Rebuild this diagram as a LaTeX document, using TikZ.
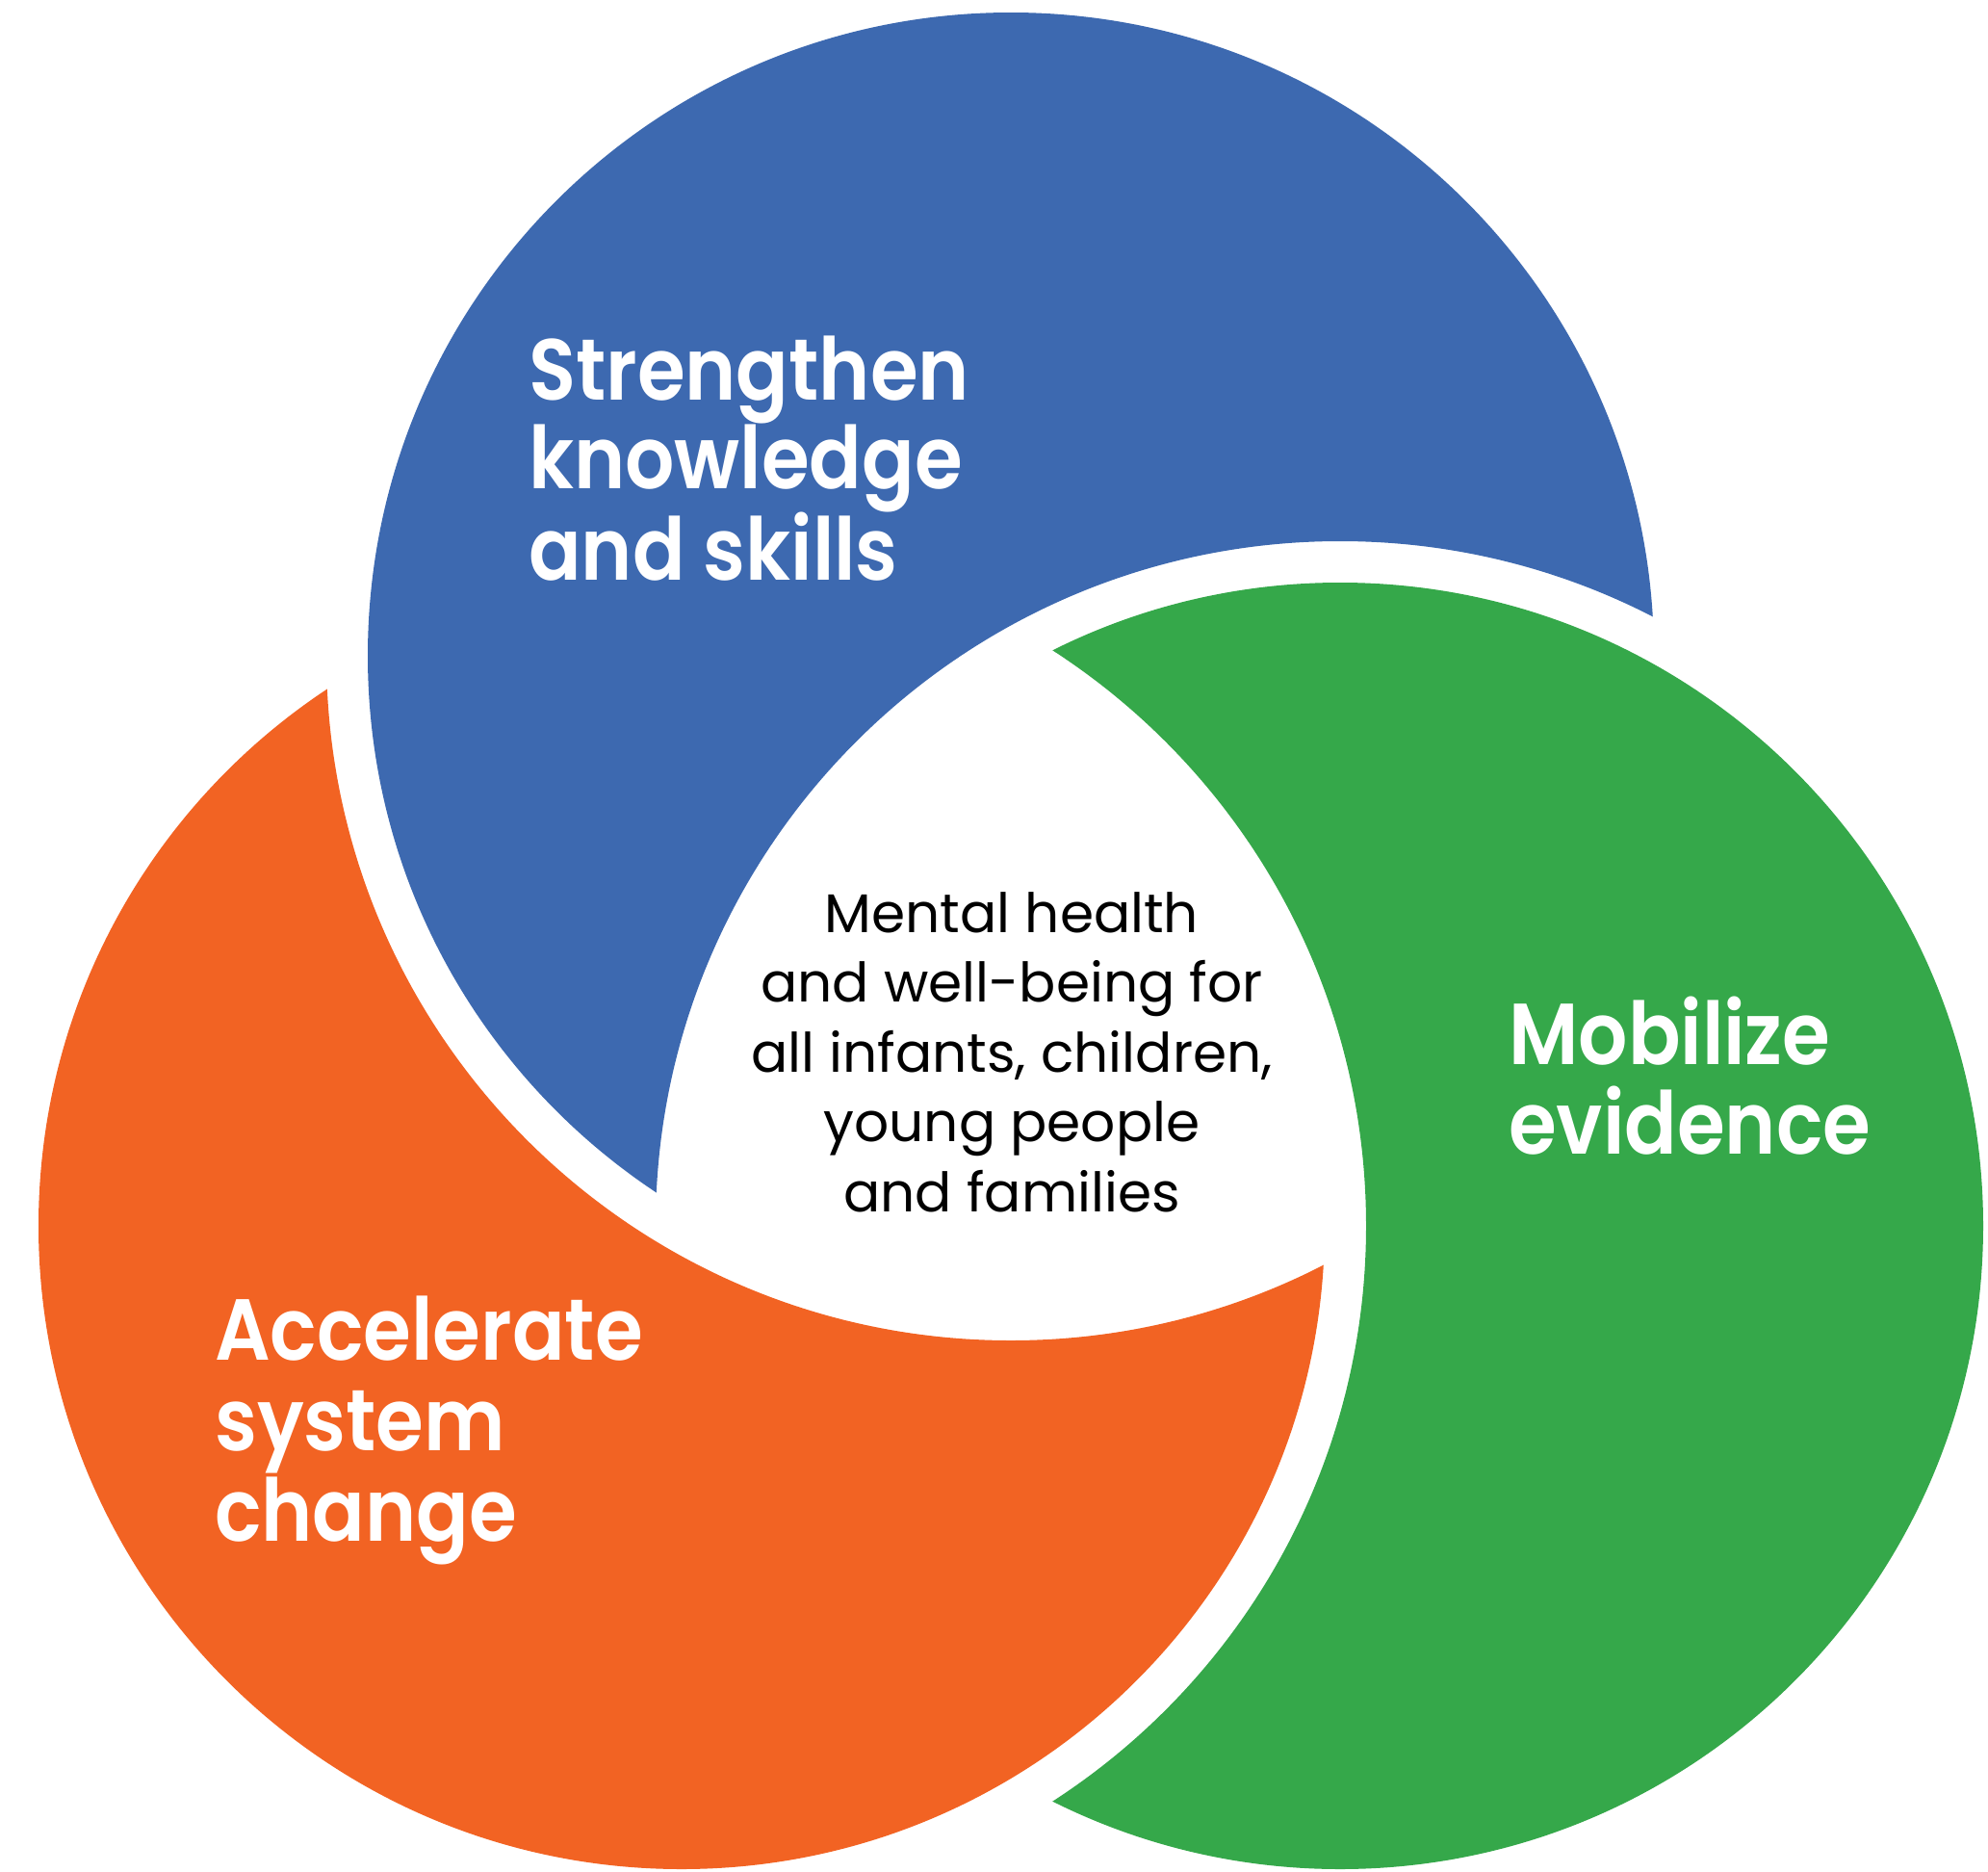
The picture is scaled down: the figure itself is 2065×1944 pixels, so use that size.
\documentclass[tikz,border=0pt]{standalone}
\usepackage{fontspec}
\setmainfont{Poppins}
\newfontfamily\labfont{Poppins SemiBold}[FakeStretch=0.895]
\definecolor{cblue}{HTML}{3D69B0}
\definecolor{corange}{HTML}{F26323}
\definecolor{cgreen}{HTML}{35A84A}
\tikzset{
  lab/.style={inner sep=0pt, anchor=base west, text=white, font=\labfont\fontsize{90}{94}\selectfont},
  mid/.style={inner sep=0pt, anchor=base, text=black, font=\fontsize{56.6}{72}\selectfont}
}
\begin{document}
\begin{tikzpicture}[x=1pt,y=-1pt]
\useasboundingbox (0,0) rectangle (2065,1944);
\fill[white] (0,0) rectangle (2065,1944);
\clip (0,0) rectangle (2065,1944);
\coordinate (cb) at (1050,681);
\coordinate (co) at (708,1273);
\coordinate (cg) at (1392,1273);
% blue: B minus G'
\begin{scope}
  \clip (cb) circle[radius=668pt];
  \fill[cblue, even odd rule] (-100,-100) rectangle (2200,2100) (cg) circle[radius=711pt];
\end{scope}
% green: G minus O'
\begin{scope}
  \clip (cg) circle[radius=668pt];
  \fill[cgreen, even odd rule] (-100,-100) rectangle (2200,2100) (co) circle[radius=711pt];
\end{scope}
% orange: O minus B'
\begin{scope}
  \clip (co) circle[radius=668pt];
  \fill[corange, even odd rule] (-100,-100) rectangle (2200,2100) (cb) circle[radius=711pt];
\end{scope}
% labels
\node[lab] (s1) at (549,415) {Strengthen};
\node[lab] (s2) at (549,507) {knowledge};
\node[lab] (s3) at (549,602) {and skills};
\node[lab] (m1) at (1567,1105) {Mobilize};
\node[lab] (m2) at (1567,1198) {evidence};
\node[lab] (a1) at (223,1412) {Accelerate};
\node[lab] (a2) at (223,1506) {system};
\node[lab] (a3) at (223,1600) {change};
% centre text
\node[mid] (c1) at (1051,968) {Mental health};
\node[mid] (c2) at (1051,1040.5) {and well-being for};
\node[mid] (c3) at (1051,1113) {all infants, children,};
\node[mid] (c4) at (1051,1185.5) {young people};
\node[mid] (c5) at (1051,1258) {and families};
\end{tikzpicture}
\end{document}
